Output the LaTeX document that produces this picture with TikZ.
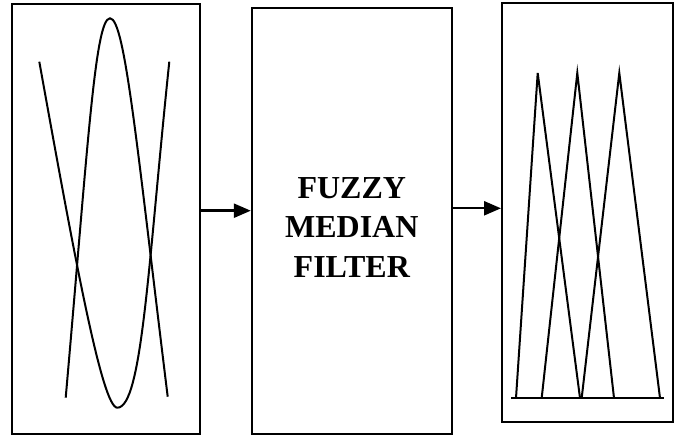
\documentclass[tikz,border=0pt]{standalone}
\usepackage{fontspec}
\setmainfont{Liberation Serif}
\usetikzlibrary{positioning,arrows.meta}

\tikzset{
  block/.style={draw,line width=2pt,inner sep=0pt},
  curve/.style={line width=2pt},
  flow/.style={line width=2.4pt,-{Triangle[length=17pt,width=14pt]}}
}

\begin{document}
\begin{tikzpicture}[x=1pt,y=1pt]
      \useasboundingbox (0,0) rectangle (678,436);

      \node[block,minimum width=188pt,minimum height=430pt] (1) at (106,217) {};
      \node[block,minimum width=200pt,minimum height=426pt,right of=1,xshift=217.35pt,yshift=-2pt] (2) {};
      \node[block,minimum width=171pt,minimum height=418.5pt,right of=2,xshift=207.25pt,yshift=8.3pt] (3) {};
      \node[align=center,font=\fontsize{32}{39.5}\selectfont\bfseries,yshift=-6.5pt] (4) at (2) {FUZZY\\MEDIAN\\FILTER};

      \coordinate (5) at ([yshift=8.3pt]1.east);
      \coordinate (6) at ([yshift=12.7pt]2.east);
      \draw[flow] (5) -- (5 -| 2.west);
      \draw[flow] (6) -- (6 -| 3.west);

      % input sets
      \draw[curve] (39.3,374.3) .. controls (75.3,174.3) and (102.3,28.3) .. (117.3,28.3)
                   .. controls (142.3,28.3) and (148.3,174.3) .. (169.3,374.3);
      \draw[curve] (65.7,38.3) .. controls (87.7,288.3) and (95,417.7) .. (110,417.7)
                   .. controls (125,417.7) and (136.95,289.3) .. (167.7,39.3);

      % output sets
      \draw[curve] (511,38) -- (664,38);
      \draw[curve] (516,38) -- (537.7,363) -- (580,38);
      \draw[curve] (541.7,38) -- (577.3,363) -- (614,38);
      \draw[curve] (581.7,38) -- (619.3,363) -- (660,38);
    \end{tikzpicture}
\end{document}
